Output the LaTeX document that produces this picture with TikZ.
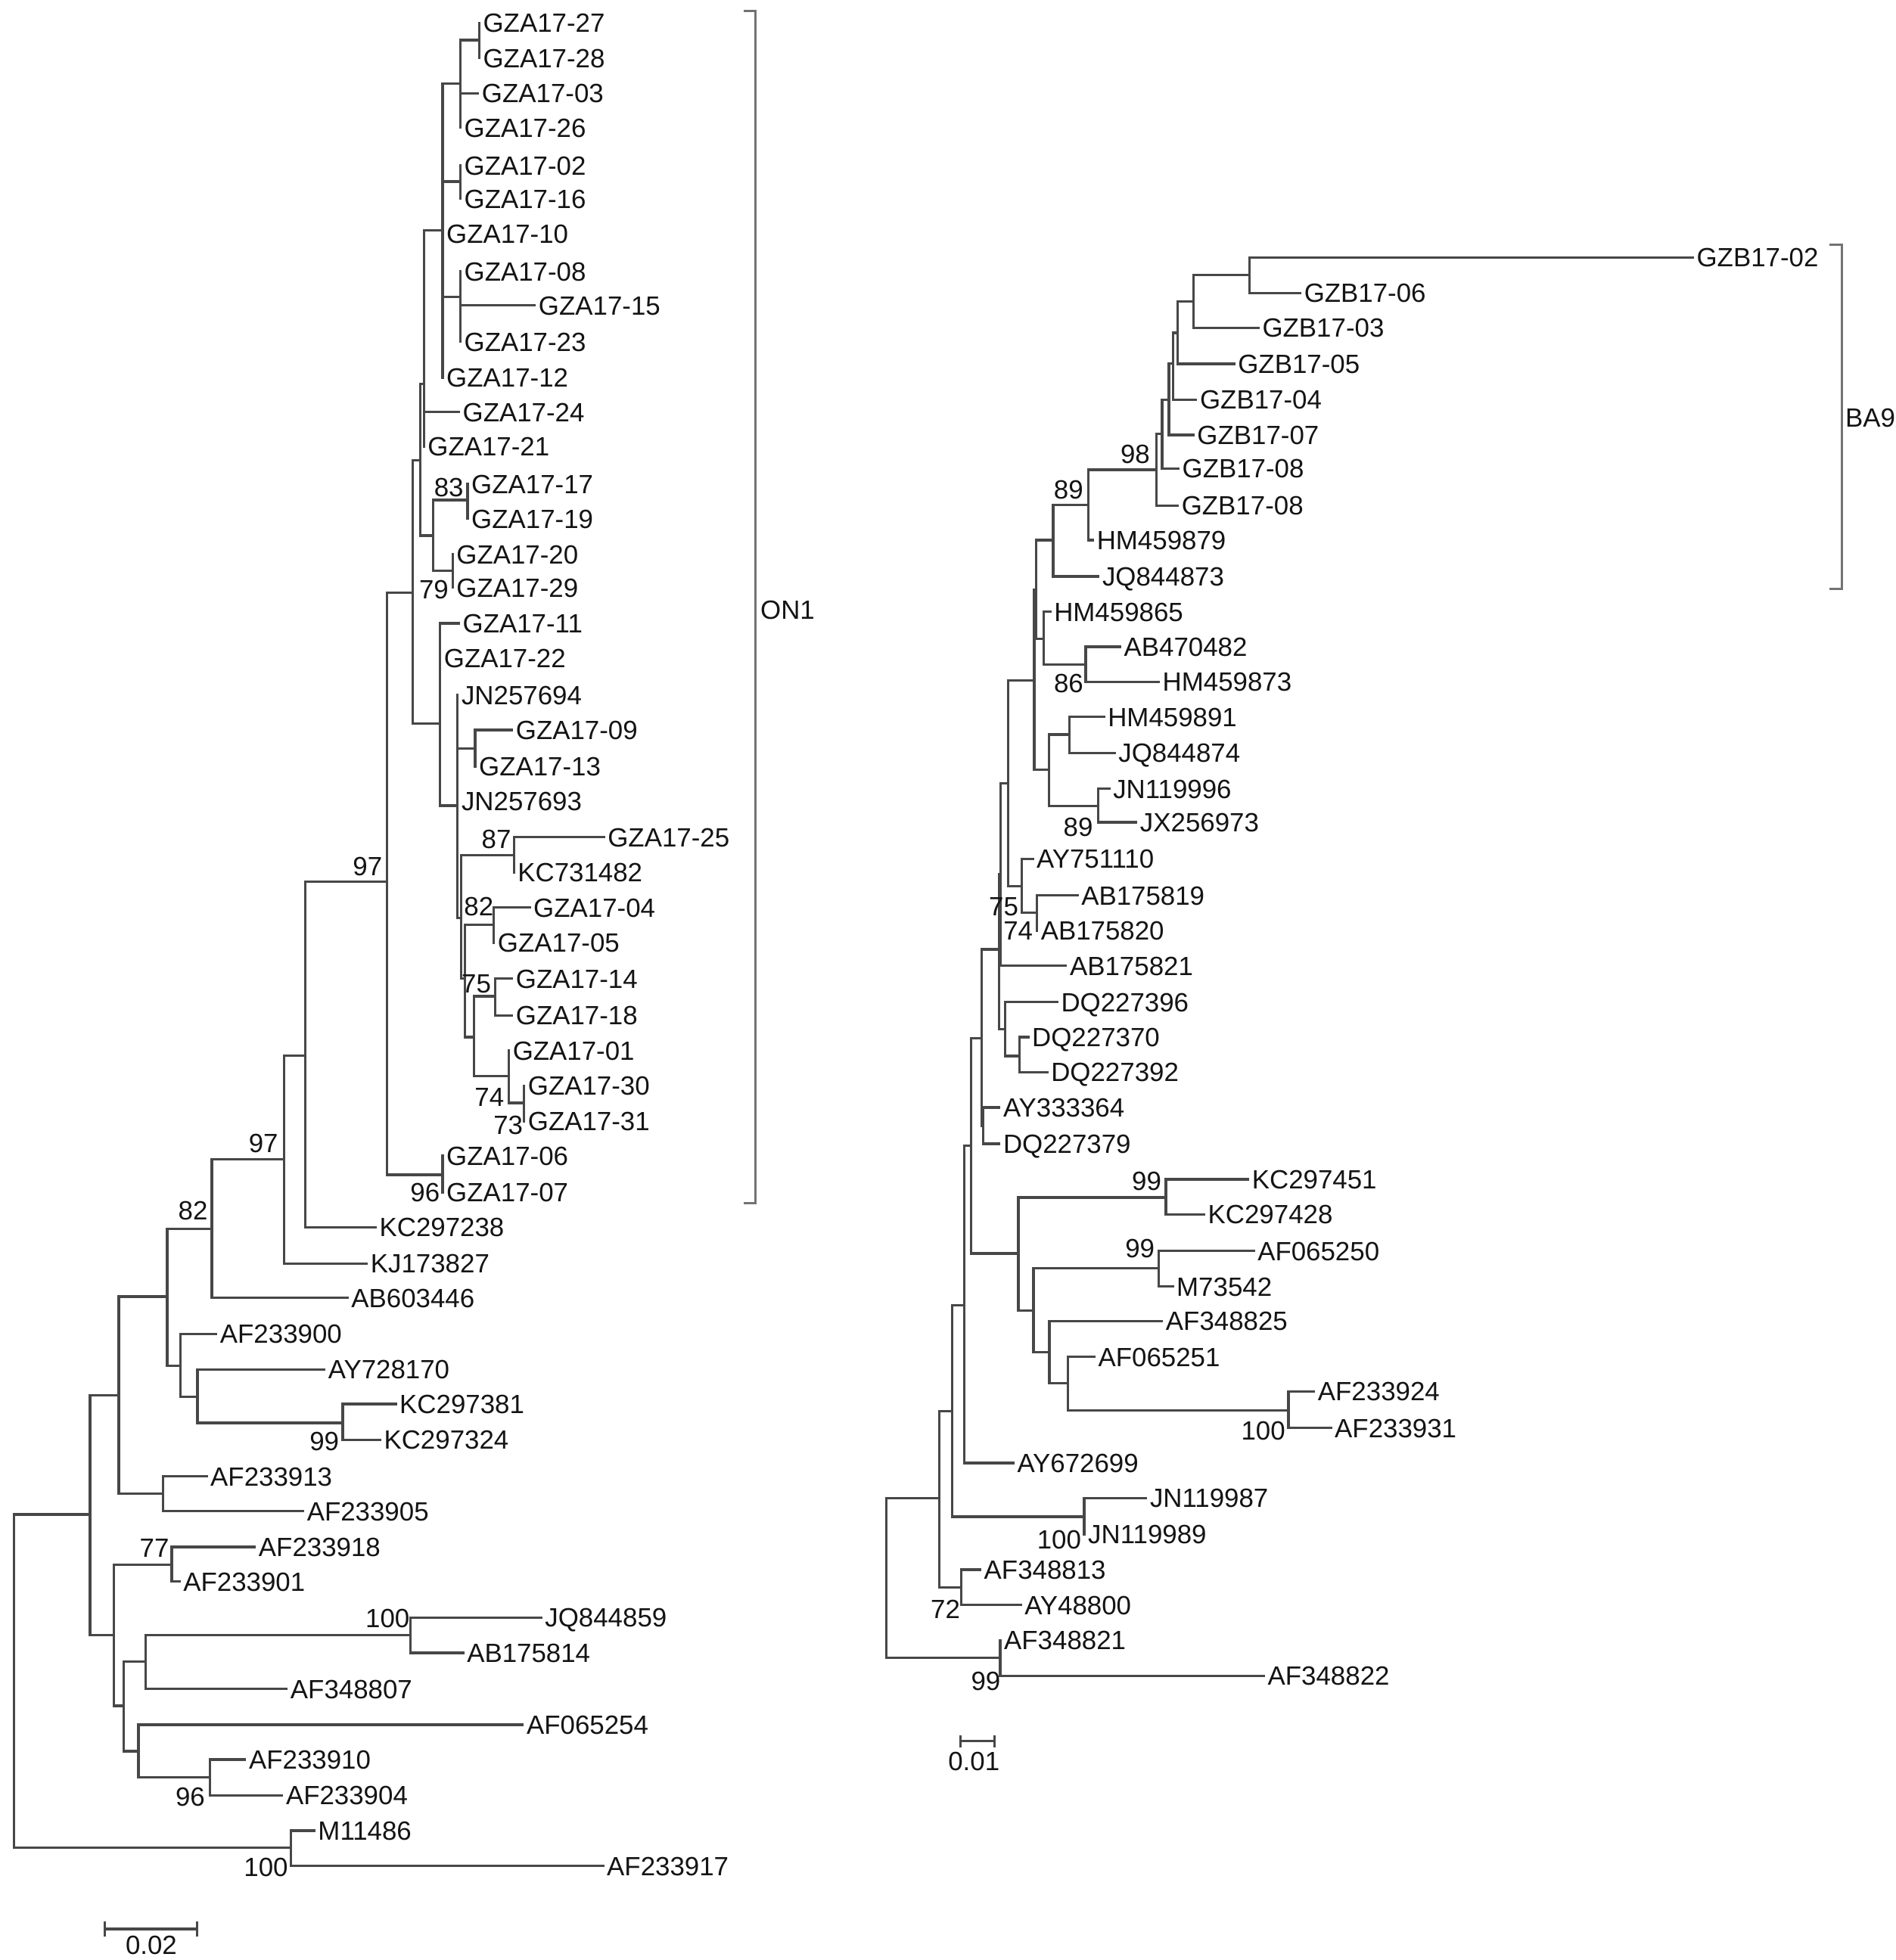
\documentclass[tikz,border=0pt]{standalone}
\usepackage{fontspec}
\setmainfont{Liberation Sans}
\begin{document}
\begin{tikzpicture}[x=0.01cm,y=-0.01cm,
  br/.style={line width=0.55pt,draw=black!72,line cap=rect},
  brk/.style={line width=0.5pt,draw=black!55},
  txt/.style={font=\fontsize{6pt}{7pt}\selectfont,text=black!92,text height=4.3pt,text depth=0pt},
  leaf/.style={txt,anchor=west,inner xsep=0.9pt,inner ysep=0pt,outer sep=0pt},
  boot/.style={txt,inner sep=0pt},
  lab/.style={txt,inner sep=0pt}]
\fill[white] (0,0) rectangle (1516,1568);
\useasboundingbox (0,0) rectangle (1516,1568);
% ---------------- left tree : tips
\node[leaf] (a27) at (383.3,18.4) {GZA17-27};
\node[leaf] (a28) at (383.3,46.5) {GZA17-28};
\node[leaf] (a03) at (382.3,74.6) {GZA17-03};
\node[leaf] (a26) at (368.2,102) {GZA17-26};
\node[leaf] (a02) at (368.2,132.3) {GZA17-02};
\node[leaf] (a16) at (368.2,158.9) {GZA17-16};
\node[leaf] (a10) at (354,187) {GZA17-10};
\node[leaf] (a08) at (368.2,217.2) {GZA17-08};
\node[leaf] (a15) at (427.7,244.2) {GZA17-15};
\node[leaf] (a23) at (368.2,273.4) {GZA17-23};
\node[leaf] (a12) at (354,302) {GZA17-12};
\node[leaf] (a24) at (367,329.6) {GZA17-24};
\node[leaf] (a21) at (339,357) {GZA17-21};
\node[leaf] (a17) at (374,387.3) {GZA17-17};
\node[leaf] (a19) at (374,415) {GZA17-19};
\node[leaf] (a20) at (362,443.6) {GZA17-20};
\node[leaf] (a29) at (362,470) {GZA17-29};
\node[leaf] (a11) at (367,498.6) {GZA17-11};
\node[leaf] (a22) at (352,526.5) {GZA17-22};
\node[leaf] (jn694) at (366,556) {JN257694};
\node[leaf] (a09) at (409.5,584) {GZA17-09};
\node[leaf] (a13) at (380,613) {GZA17-13};
\node[leaf] (jn693) at (366,641) {JN257693};
\node[leaf] (a25) at (483,669.8) {GZA17-25};
\node[leaf] (kc482) at (411,697.8) {KC731482};
\node[leaf] (a04) at (423.6,726) {GZA17-04};
\node[leaf] (a05) at (395,754) {GZA17-05};
\node[leaf] (a14) at (409.5,782.8) {GZA17-14};
\node[leaf] (a18) at (409.5,812.4) {GZA17-18};
\node[leaf] (a01) at (407,840.6) {GZA17-01};
\node[leaf] (a30) at (419.2,868.5) {GZA17-30};
\node[leaf] (a31) at (419.2,896.8) {GZA17-31};
\node[leaf] (a06) at (354,924.7) {GZA17-06};
\node[leaf] (a07) at (354,953.9) {GZA17-07};
\node[leaf] (kc238) at (300.4,981.8) {KC297238};
\node[leaf] (kj827) at (293.3,1010.8) {KJ173827};
\node[leaf] (ab446) at (277.9,1038.3) {AB603446};
\node[leaf] (af900) at (172.9,1067) {AF233900};
\node[leaf] (ay170) at (259.4,1095.5) {AY728170};
\node[leaf] (kc381) at (316.5,1123.2) {KC297381};
\node[leaf] (kc324) at (304,1151.7) {KC297324};
\node[leaf] (af913) at (165.2,1181) {AF233913};
\node[leaf] (af905) at (242.4,1209) {AF233905};
\node[leaf] (af918) at (203.8,1237.6) {AF233918};
\node[leaf] (af901) at (143.5,1265.3) {AF233901};
\node[leaf] (jq859) at (432.8,1294) {JQ844859};
\node[leaf] (ab814) at (370.4,1322.3) {AB175814};
\node[leaf] (af807) at (229.2,1351.2) {AF348807};
\node[leaf] (af254) at (418.1,1379.8) {AF065254};
\node[leaf] (af910) at (196,1407.6) {AF233910};
\node[leaf] (af904) at (225.6,1436.3) {AF233904};
\node[leaf] (m486) at (251.3,1464.5) {M11486};
\node[leaf] (af917) at (482.3,1492.8) {AF233917};
% ---------------- left tree : internal nodes
\coordinate (L0) at (11,1345);
\coordinate (Lo) at (72,1211.5);
\coordinate (Ln) at (95,1116);
\coordinate (L82) at (133.7,1037.2);
\coordinate (L97b) at (169.4,983);
\coordinate (Lk) at (227,927.4);
\coordinate (L97a) at (244,844.5);
\coordinate (LON) at (309.7,705.5);
\coordinate (Ld) at (330,474);
\coordinate (La) at (336,368);
\coordinate (Lb) at (339,307);
\coordinate (Ltop) at (354,184.2);
\coordinate (LA1) at (368.2,67);
\coordinate (L2728) at (383.3,32);
\coordinate (L0216) at (368.2,145.2);
\coordinate (L0815) at (368.2,237.3);
\coordinate (Lc) at (346.6,428.4);
\coordinate (L1719) at (374,400);
\coordinate (L2029) at (362,456.4);
\coordinate (Le) at (352,578.6);
\coordinate (Lf) at (366,644.5);
\coordinate (L0913) at (380,599);
\coordinate (Lg) at (369,734.5);
\coordinate (L25) at (411,684);
\coordinate (Lh) at (372,783);
\coordinate (L0405) at (395,740);
\coordinate (Li) at (379,829.7);
\coordinate (L1418) at (396,797);
\coordinate (L01) at (407,861);
\coordinate (L3031) at (419.2,882.3);
\coordinate (L0607) at (354,939.8);
\coordinate (Ll) at (144.5,1092.4);
\coordinate (Lm) at (158,1117.2);
\coordinate (L99) at (274.2,1138.3);
\coordinate (L1305) at (130.6,1195);
\coordinate (Lp) at (91,1308.2);
\coordinate (L77) at (137.4,1252);
\coordinate (Lq) at (99,1364.7);
\coordinate (Lr) at (116.6,1329.4);
\coordinate (L100a) at (328.3,1308.2);
\coordinate (Ls) at (110.8,1401);
\coordinate (L96) at (168,1421.6);
\coordinate (L100b) at (232.9,1478.3);
\foreach \p/\c in {L0/Lo, L0/L100b, Lo/Ln, Lo/Lp, Ln/L82, Ln/L1305,
  L82/L97b, L82/Ll, L97b/Lk, L97b/ab446, Lk/L97a, Lk/kj827,
  L97a/LON, L97a/kc238, LON/Ld, LON/L0607, Ld/La, Ld/Le, La/Lb, La/Lc,
  Lb/Ltop, Lb/a24, Lb/a21, Ltop/LA1, Ltop/L0216, Ltop/a10, Ltop/L0815, Ltop/a12,
  LA1/L2728, LA1/a03, LA1/a26, L2728/a27, L2728/a28, L0216/a02, L0216/a16,
  L0815/a08, L0815/a15, L0815/a23, Lc/L1719, Lc/L2029, L1719/a17, L1719/a19,
  L2029/a20, L2029/a29, Le/a11, Le/a22, Le/Lf, Lf/jn694, Lf/L0913, Lf/jn693, Lf/Lg,
  L0913/a09, L0913/a13, Lg/L25, Lg/Lh, L25/a25, L25/kc482, Lh/L0405, Lh/Li,
  L0405/a04, L0405/a05, Li/L1418, Li/L01, L1418/a14, L1418/a18, L01/a01, L01/L3031,
  L3031/a30, L3031/a31, L0607/a06, L0607/a07, Ll/af900, Ll/Lm, Lm/ay170, Lm/L99,
  L99/kc381, L99/kc324, L1305/af913, L1305/af905, Lp/L77, Lp/Lq, L77/af918, L77/af901,
  Lq/Lr, Lq/Ls, Lr/L100a, Lr/af807, L100a/jq859, L100a/ab814, Ls/af254, Ls/L96,
  L96/af910, L96/af904, L100b/m486, L100b/af917}
  \draw[br] (\p) |- (\c);
% left bootstrap values
\node[boot] (b1) at (359,390) {83};
\node[boot] (b2) at (347,471.5) {79};
\node[boot] (b3) at (294,693) {97};
\node[boot] (b4) at (397,671) {87};
\node[boot] (b5) at (383,725) {82};
\node[boot] (b6) at (381,786.5) {75};
\node[boot] (b7) at (391.4,877.3) {74};
\node[boot] (b8) at (406.5,900) {73};
\node[boot] (b9) at (340,954) {96};
\node[boot] (b10) at (210.7,914.7) {97};
\node[boot] (b11) at (154.4,968) {82};
\node[boot] (b12) at (259.4,1153) {99};
\node[boot] (b13) at (123.5,1238) {77};
\node[boot] (b14) at (310,1294.6) {100};
\node[boot] (b15) at (152.2,1437.3) {96};
\node[boot] (b16) at (212.7,1493.8) {100};
% ON1 bracket
\coordinate (o1) at (595,8.6);
\coordinate (o2) at (604,8.6);
\coordinate (o3) at (604,962.7);
\coordinate (o4) at (595,962.7);
\draw[brk] (o1) -- (o2) -- (o3) -- (o4);
\node[lab] (on1) at (630,488) {ON1};
% left scale bar
\coordinate (sl1) at (83.7,1543.2);
\coordinate (sl2) at (157.7,1543.2);
\draw[br] (sl1) -- (sl2);
\draw[br] (sl1) ++(0,-5) -- ++(0,10);
\draw[br] (sl2) ++(0,-5) -- ++(0,10);
\node[lab] (sc1) at (121,1556) {0.02};
% ---------------- right tree : tips
\node[leaf] (b02) at (1354,205.8) {GZB17-02};
\node[leaf] (b06) at (1040,234.4) {GZB17-06};
\node[leaf] (b03) at (1006.6,262.2) {GZB17-03};
\node[leaf] (b05) at (987.1,291.1) {GZB17-05};
\node[leaf] (b04) at (956.7,319.7) {GZB17-04};
\node[leaf] (b07) at (954.5,348) {GZB17-07};
\node[leaf] (b08a) at (942.5,374.8) {GZB17-08};
\node[leaf] (b08b) at (942,404.5) {GZB17-08};
\node[leaf] (hm879) at (874.2,432.1) {HM459879};
\node[leaf] (jq873) at (878.6,461.1) {JQ844873};
\node[leaf] (hm865) at (840,489.3) {HM459865};
\node[leaf] (ab482) at (895.9,517.4) {AB470482};
\node[leaf] (hm873) at (926.8,545.5) {HM459873};
\node[leaf] (hm891) at (883,573.6) {HM459891};
\node[leaf] (jq874) at (891.5,602.4) {JQ844874};
\node[leaf] (jn996) at (887.2,630.9) {JN119996};
\node[leaf] (jx973) at (908.8,657.8) {JX256973};
\node[leaf] (ay110) at (826,687.1) {AY751110};
\node[leaf] (ab819) at (861.8,716.3) {AB175819};
\node[leaf] (ab820) at (829.4,744.4) {AB175820};
\node[leaf] (ab821) at (852.6,772.5) {AB175821};
\node[leaf] (dq396) at (845.6,801.7) {DQ227396};
\node[leaf] (dq370) at (822.4,829.7) {DQ227370};
\node[leaf] (dq392) at (837.6,857.8) {DQ227392};
\node[leaf] (ay364) at (799.3,886) {AY333364};
\node[leaf] (dq379) at (799.3,915) {DQ227379};
\node[leaf] (kc451) at (998.3,943.5) {KC297451};
\node[leaf] (kc428) at (963.1,971.5) {KC297428};
\node[leaf] (af250) at (1002.8,1000.7) {AF065250};
\node[leaf] (m542) at (938,1029.2) {M73542};
\node[leaf] (af825) at (929.4,1056.9) {AF348825};
\node[leaf] (af251) at (875.3,1085.4) {AF065251};
\node[leaf] (af924) at (1051,1113.1) {AF233924};
\node[leaf] (af931) at (1064.5,1142.3) {AF233931};
\node[leaf] (ay699) at (810.5,1170.4) {AY672699};
\node[leaf] (jn987) at (916.7,1198.3) {JN119987};
\node[leaf] (jn989) at (867.2,1227.5) {JN119989};
\node[leaf] (af813) at (784,1255.7) {AF348813};
\node[leaf] (ay800) at (816.4,1284) {AY48800};
\node[leaf] (af821) at (800,1312.2) {AF348821};
\node[leaf] (af822) at (1010.9,1340.5) {AF348822};
% ---------------- right tree : internal nodes
\coordinate (R0) at (708.9,1262.4);
\coordinate (Rk) at (751.5,1198.3);
\coordinate (RJ1) at (761.7,1128.7);
\coordinate (R72) at (769.1,1269.9);
\coordinate (R100c) at (867.2,1213.4);
\coordinate (R99) at (800,1326.4);
\coordinate (RH5) at (771.4,1044);
\coordinate (RH4) at (776.8,916.3);
\coordinate (RI1) at (814.6,1002.8);
\coordinate (R99a) at (932.6,958);
\coordinate (RI2) at (826.7,1048.2);
\coordinate (R99b) at (926.7,1014.7);
\coordinate (RI3) at (839.4,1081.8);
\coordinate (RI4) at (854.3,1106.6);
\coordinate (R100a) at (1030.6,1128.2);
\coordinate (RH3) at (785.4,830.8);
\coordinate (RH6) at (786.6,900.5);
\coordinate (RH2) at (799,759.5);
\coordinate (RDQ) at (804,823.3);
\coordinate (RDQ2) at (815.5,844.8);
\coordinate (RH1) at (800.5,699.5);
\coordinate (RG3) at (806.6,626.6);
\coordinate (RAY) at (817.2,708.7);
\coordinate (R1920) at (829.4,730.3);
\coordinate (RG2) at (827.3,544.4);
\coordinate (RG5) at (839.3,615.8);
\coordinate (R9174) at (855.5,587.6);
\coordinate (R89b) at (878.6,645);
\coordinate (RG1) at (828.8,471.5);
\coordinate (R65) at (834.7,511);
\coordinate (R86) at (868.4,531.5);
\coordinate (R842) at (842.4,432.1);
\coordinate (R89a) at (870.6,404);
\coordinate (RE) at (925,375.8);
\coordinate (RD) at (929.5,347);
\coordinate (RC) at (935,319.7);
\coordinate (RF) at (938.5,291);
\coordinate (RB) at (942,266.3);
\coordinate (RA) at (954.5,241);
\coordinate (R0206) at (999.3,219.9);
\foreach \p/\c in {R0/Rk, R0/R99, Rk/RJ1, Rk/R72, RJ1/RH5, RJ1/R100c,
  R100c/jn987, R100c/jn989, R72/af813, R72/ay800, R99/af821, R99/af822,
  RH5/RH4, RH5/ay699, RH4/RH3, RH4/RI1, RI1/R99a, RI1/RI2, R99a/kc451, R99a/kc428,
  RI2/R99b, RI2/RI3, R99b/af250, R99b/m542, RI3/af825, RI3/RI4, RI4/af251, RI4/R100a,
  R100a/af924, R100a/af931, RH3/RH2, RH3/RH6, RH6/ay364, RH6/dq379,
  RH2/RH1, RH2/RDQ, RDQ/dq396, RDQ/RDQ2, RDQ2/dq370, RDQ2/dq392,
  RH1/RG3, RH1/ab821, RG3/RG2, RG3/RAY, RAY/ay110, RAY/R1920, R1920/ab819, R1920/ab820,
  RG2/RG1, RG2/RG5, RG5/R9174, RG5/R89b, R9174/hm891, R9174/jq874, R89b/jn996, R89b/jx973,
  RG1/R842, RG1/R65, R65/hm865, R65/R86, R86/ab482, R86/hm873,
  R842/R89a, R842/jq873, R89a/RE, R89a/hm879, RE/RD, RE/b08b, RD/RC, RD/b08a,
  RC/RF, RC/b07, RF/RB, RF/b04, RB/RA, RB/b05, RA/R0206, RA/b03, R0206/b02, R0206/b06}
  \draw[br] (\p) |- (\c);
% right bootstrap values
\node[boot] (b17) at (908,363) {98};
\node[boot] (b18) at (854.7,391.4) {89};
\node[boot] (b19) at (854.8,546.6) {86};
\node[boot] (b20) at (862.4,661.2) {89};
\node[boot] (b21) at (802.8,725) {75};
\node[boot] (b22) at (814.4,744.4) {74};
\node[boot] (b23) at (917.2,944.5) {99};
\node[boot] (b24) at (911.8,998.5) {99};
\node[boot] (b25) at (1010.4,1144.4) {100};
\node[boot] (b26) at (847.2,1231.6) {100};
\node[boot] (b27) at (756.2,1287) {72};
\node[boot] (b28) at (788.5,1344.5) {99};
% BA9 bracket
\coordinate (q1) at (1463.3,196);
\coordinate (q2) at (1473.4,196);
\coordinate (q3) at (1473.4,471);
\coordinate (q4) at (1463.3,471);
\draw[brk] (q1) -- (q2) -- (q3) -- (q4);
\node[lab] (ba9) at (1496,334) {BA9};
% right scale bar
\coordinate (sr1) at (768.5,1393);
\coordinate (sr2) at (795.4,1393);
\draw[br] (sr1) -- (sr2);
\draw[br] (sr1) ++(0,-4) -- ++(0,8);
\draw[br] (sr2) ++(0,-4) -- ++(0,8);
\node[lab] (sc2) at (779,1409) {0.01};
\end{tikzpicture}
\end{document}
